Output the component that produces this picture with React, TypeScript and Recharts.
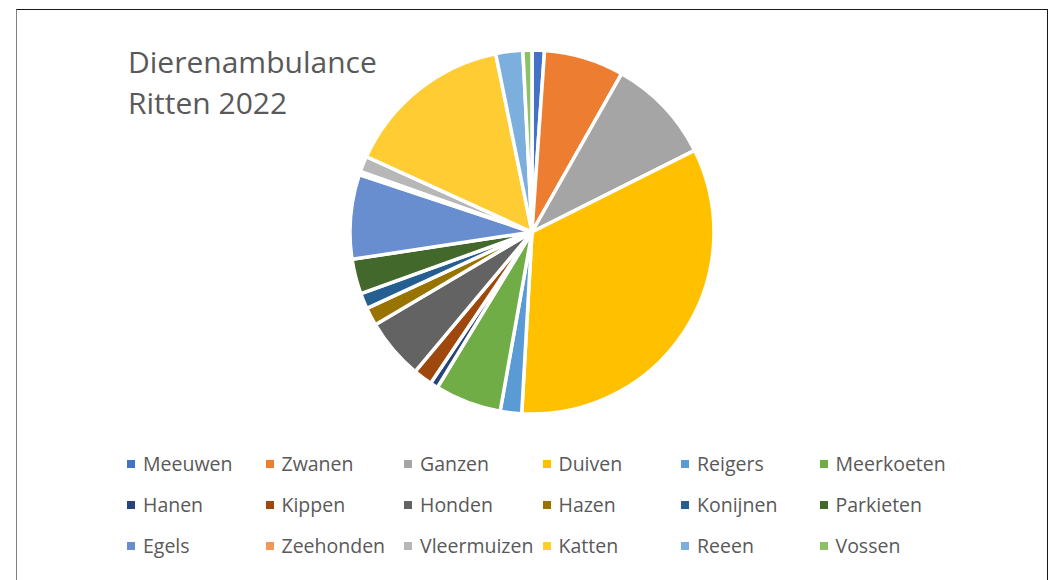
import { PieChart, Pie, Cell, Legend } from "recharts";

const animals = [
  "Meeuwen", "Zwanen", "Ganzen", "Duiven", "Reigers", "Meerkoeten",
  "Hanen", "Kippen", "Honden", "Hazen", "Konijnen", "Parkieten",
  "Egels", "Zeehonden", "Vleermuizen", "Katten", "Reeen", "Vossen",
];

const ritten = [11, 71, 94, 333, 19, 59, 7, 17, 54, 16, 14, 31, 75, 3, 14, 150, 24, 8];

const colors = [
  "#4472C4", "#ED7D31", "#A5A5A5", "#FFC000", "#5B9BD5", "#70AD47",
  "#264478", "#9E480E", "#636363", "#997300", "#255E91", "#43682B",
  "#698ED0", "#F1975A", "#B7B7B7", "#FFCD33", "#7CAFDD", "#8CC168",
];

const titleLines = ["Dierenambulance", "Ritten 2022"];

const data = animals.map((name, i) => ({ name, value: ritten[i] }));

const FONT = "'Open Sans', sans-serif";
const TEXT = "#595959";

function LegendGrid() {
  return (
    <div
      style={{
        display: "grid",
        gridTemplateColumns: "repeat(6, 138.5px)",
        gridAutoRows: "41px",
        fontFamily: FONT,
        fontSize: 19.5,
        color: TEXT,
      }}
    >
      {animals.map((name, i) => (
        <div key={name} style={{ display: "flex", alignItems: "center", whiteSpace: "nowrap" }}>
          <span
            style={{
              width: 8,
              height: 8,
              background: colors[i],
              marginRight: 8,
              flexShrink: 0,
            }}
          />
          <span>{name}</span>
        </div>
      ))}
    </div>
  );
}

export default function App() {
  return (
    <div
      style={{
        position: "absolute",
        left: 0,
        top: 0,
        width: 1054,
        height: 580,
        overflow: "hidden",
        background: "#fff",
      }}
    >
      {/* chart frame */}
      <div
        style={{
          position: "absolute",
          left: 16,
          top: 9,
          width: 1030,
          height: 600,
          border: "1.5px solid #1a1a1a",
          borderLeftColor: "#808080",
        }}
      />
      <div
        style={{
          position: "absolute",
          left: 128,
          top: 41,
          fontFamily: FONT,
          fontSize: 30,
          lineHeight: "41px",
          color: TEXT,
        }}
      >
        {titleLines.map((t) => (
          <div key={t}>{t}</div>
        ))}
      </div>
      <PieChart
        width={1054}
        height={580}
        margin={{ top: 0, right: 0, bottom: 0, left: 0 }}
        style={{ position: "absolute", left: 0, top: 0 }}
      >
        <Pie
          data={data}
          dataKey="value"
          nameKey="name"
          cx={532}
          cy={232}
          outerRadius={182}
          startAngle={90}
          endAngle={-270}
          stroke="#ffffff"
          strokeWidth={3.5}
          isAnimationActive={false}
        >
          {data.map((d, i) => (
            <Cell key={d.name} fill={colors[i]} />
          ))}
        </Pie>
        <Legend
          content={() => <LegendGrid />}
          wrapperStyle={{ position: "absolute", left: 127, top: 443, width: 840 }}
        />
      </PieChart>
    </div>
  );
}
